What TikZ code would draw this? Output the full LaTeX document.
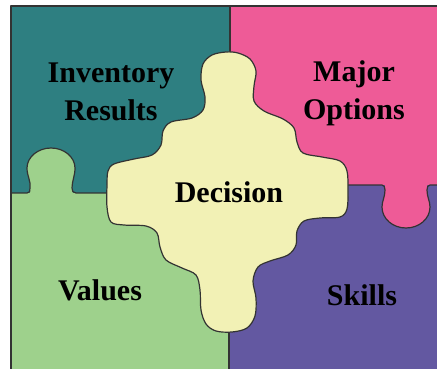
\documentclass[tikz,border=0pt]{standalone}
\usepackage{fontspec}
\setmainfont{Liberation Serif}
\definecolor{tealq}{HTML}{2E7F81}
\definecolor{pinkq}{HTML}{EE5B97}
\definecolor{greenq}{HTML}{9ED18C}
\definecolor{purpleq}{HTML}{6358A1}
\definecolor{yellowq}{HTML}{F2F1B5}
\definecolor{linec}{HTML}{333333}
\begin{document}
\begin{tikzpicture}[x=1pt,y=-1pt,
  edge/.style={draw=linec, line width=1.2pt, line join=round, line cap=round},
  lbl/.style={font=\bfseries\fontsize{30}{38}\selectfont, align=center, text=black, inner sep=0pt, anchor=base}]
\useasboundingbox (0,0) rectangle (437,369);
% quadrants
\fill[tealq] (11,6) rectangle (230,193);
\fill[pinkq] (230,6) rectangle (442,185);
\fill[greenq] (11,193) rectangle (229,372);
\fill[purpleq] (229,185) rectangle (442,372);
% green knob into teal
\fill[greenq] (30,194) -- (30,188) .. controls (31,181) and (27,176) .. (27,168)
  .. controls (27,157) and (38,148) .. (51,148) .. controls (64,148) and (75,157) .. (75,168)
  .. controls (75,176) and (72,181) .. (72,188) -- (73,194) -- cycle;
\draw[edge] (11,193) -- (27,193) .. controls (30,193) and (30,191) .. (30,188) .. controls (31,181) and (27,176) .. (27,168)
  .. controls (27,157) and (38,148) .. (51,148) .. controls (64,148) and (75,157) .. (75,168)
  .. controls (75,176) and (72,181) .. (72,188) .. controls (72,191) and (73,193) .. (76,193) -- (112,193);
% pink knob into purple
\fill[pinkq] (385,184) -- (385,190) .. controls (385,197) and (382,201) .. (382,207)
  .. controls (382,219) and (393,228) .. (406,228) .. controls (419,228) and (430,219) .. (430,207)
  .. controls (430,201) and (427,197) .. (427,190) -- (427,184) -- cycle;
\draw[edge] (344,185) -- (382,185) .. controls (384,185) and (385,187) .. (385,190) .. controls (385,197) and (382,201) .. (382,207)
  .. controls (382,219) and (393,228) .. (406,228) .. controls (419,228) and (430,219) .. (430,207)
  .. controls (430,201) and (427,197) .. (427,190) .. controls (427,187) and (428,185) .. (430,185) -- (442,185);
% dividers and frame
\draw[edge] (230,6) -- (230,56);
\draw[edge] (229,328) -- (229,372);
\draw[edge] (442,6) -- (11,6) -- (11,372);
% decision piece
\filldraw[edge, fill=yellowq] plot[smooth cycle, tension=0.55] coordinates {
  (226,52) (238,53) (250,59) (256,71) (254,86) (254,101) (264,111) (283,119)
  (294,128) (297,142) (303,153) (322,157) (340,161) (347,171) (348,190) (347,209)
  (340,217) (320,218) (304,221) (297,231) (296,245) (288,255) (270,261) (258,267)
  (253,281) (256,298) (255,316) (247,328) (232,332) (216,331) (206,324) (201,310)
  (200,290) (196,275) (182,268) (166,260) (160,247) (157,233) (146,226) (124,225)
  (111,222) (107,207) (107,185) (108,171) (114,164) (134,159) (152,155) (161,145)
  (163,131) (171,122) (192,118) (203,110) (205,97) (201,80) (203,64) (212,55) };
% labels
\node[lbl] (inv) at (111,121) {Inventory\\Results};
\node[lbl] (maj) at (354,120) {Major\\Options};
\node[lbl] (dec) at (229,202) {Decision};
\node[lbl] (val) at (100,300) {Values};
\node[lbl] (ski) at (362,305) {Skills};
\end{tikzpicture}
\end{document}
